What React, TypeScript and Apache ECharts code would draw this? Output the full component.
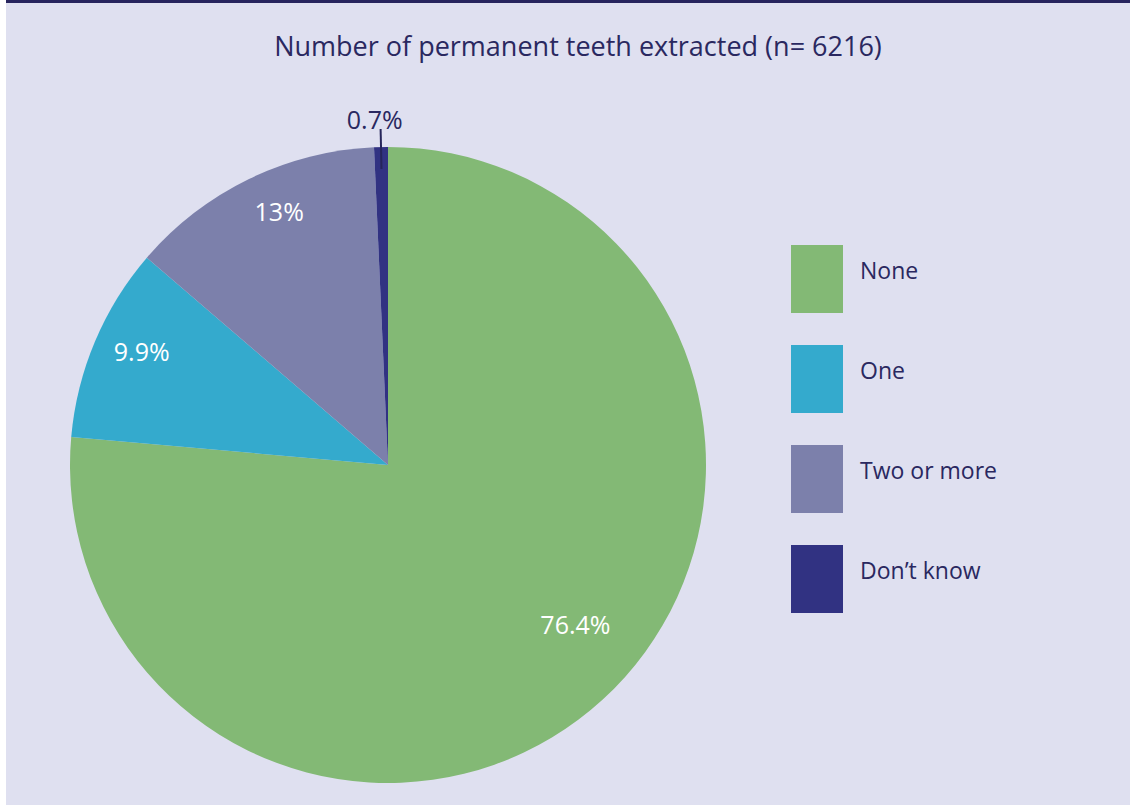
import React, { useEffect, useRef } from "react";
import * as echarts from "echarts";

const categories = ["None", "One", "Two or more", "Don\u2019t know"];
const values = [76.4, 9.9, 13, 0.7];
const labels = ["76.4%", "9.9%", "13%", "0.7%"];
const colors = ["#83B975", "#34AACD", "#7C80AB", "#313282"];
const titleText = "Number of permanent teeth extracted (n= 6216)";
// label nudges from the default inner position
const labelNudges = [
  [78, 40],
  [-97, -51],
  [-38, -108],
  [22, -10],
];

export default function App() {
  const ref = useRef<HTMLDivElement>(null);
  useEffect(() => {
    if (!ref.current) return;
    const chart = echarts.init(ref.current, undefined, { renderer: "svg" });
    const font = "'Open Sans', 'Noto Sans', sans-serif";
    const data = categories.map((c, i) => ({
      name: c,
      value: values[i],
      itemStyle: { color: colors[i] },
    }));
    chart.setOption({
      animation: false,
      backgroundColor: "#ffffff",
      graphic: [
        {
          type: "rect",
          shape: { x: 6, y: 0, width: 1124, height: 805 },
          style: { fill: "#DFE0F0" },
          z: -10,
          silent: true,
        },
        {
          type: "rect",
          shape: { x: 6, y: 0, width: 1124, height: 3 },
          style: { fill: "#27245E" },
          z: -9,
          silent: true,
        },
      ],
      title: {
        text: titleText,
        left: 573,
        top: 27,
        textAlign: "center",
        textStyle: {
          fontFamily: font,
          fontSize: 27,
          fontWeight: "normal",
          color: "#2A2860",
        },
      },
      legend: {
        orient: "vertical",
        left: 786,
        top: 240,
        itemWidth: 52,
        itemHeight: 68,
        itemGap: 32,
        icon: "rect",
        selectedMode: false,
        data: categories,
        formatter: (name: string) => `${name}\n{s|}`,
        textStyle: {
          fontFamily: font,
          fontSize: 23,
          color: "#2A2860",
          padding: [0, 0, 0, 12],
          rich: { s: { height: 18, fontSize: 10 } },
        },
      },
      series: [
        {
          type: "pie",
          center: [388, 465],
          radius: 318,
          startAngle: 90,
          clockwise: true,
          silent: true,
          data: data.map((d, i) => ({
            ...d,
            label: { show: i < 3 },
          })),
          label: {
            position: "inner",
            formatter: (p: any) => labels[p.dataIndex],
            color: "#ffffff",
            fontFamily: font,
            fontSize: 25,
          },
          labelLine: { show: false },
          labelLayout: (p: any) => ({
            dx: labelNudges[p.dataIndex][0],
            dy: labelNudges[p.dataIndex][1],
          }),
        },
        {
          type: "pie",
          center: [388, 465],
          radius: 296,
          startAngle: 90,
          clockwise: true,
          silent: true,
          z: 5,
          data: data.map((d, i) => ({
            ...d,
            itemStyle: { color: "rgba(0,0,0,0)" },
            label: { show: i === 3 },
            labelLine: { show: i === 3 },
          })),
          label: {
            position: "outside",
            formatter: (p: any) => labels[p.dataIndex],
            color: "#2A2860",
            fontFamily: font,
            fontSize: 25,
            distanceToLabelLine: 0,
          },
          labelLine: {
            length: 40,
            length2: 0,
            lineStyle: { color: "#26255A", width: 2 },
          },
          labelLayout: (p: any) => ({
            dx: labelNudges[p.dataIndex][0],
            dy: labelNudges[p.dataIndex][1],
          }),
        },
      ],
    });
    return () => chart.dispose();
  }, []);
  return (
    <div
      ref={ref}
      style={{ position: "fixed", left: 0, top: 0, width: 1130, height: 805 }}
    />
  );
}
